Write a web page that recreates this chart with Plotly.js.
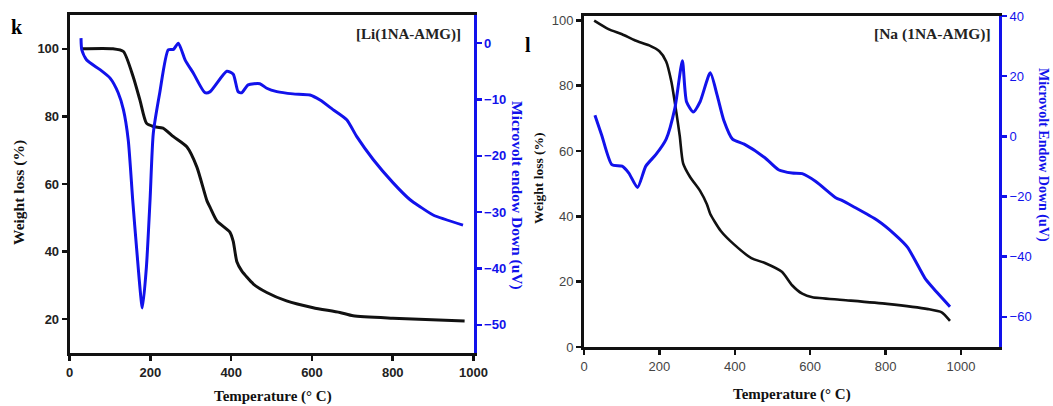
<!DOCTYPE html>
<html><head><meta charset="utf-8">
<script src="https://cdn.plot.ly/plotly-3.0.1.min.js"></script>
<style>html,body{margin:0;padding:0;background:#fff}#plot{width:1053px;height:406px}</style>
</head><body><div id="plot"></div>
<script>
// Panel k: [Li(1NA-AMG)]
const liTgaT = [28,107,133,157,174,190,207,231,257,290,315,340,348,365,397,405,414,426,455,488,537,603,669,702,800,978];
const liTgaW = [100,100,99.2,91.8,84.8,78,77,76.5,74,71,65,55,53,49,45.7,43,37,34.3,30.4,27.9,25.4,23.4,22,21,20.3,19.5];
const liDtaT = [28,30,42,75,100,120,133,145,156,166,180,190,199,207,223,244,257,269,286,306,335,348,389,405,417,426,442,471,488,513,553,595,620,652,686,711,752,801,843,867,900,974];
const liDtaV = [0.9,-1.2,-3,-4.7,-6.2,-8.8,-11.8,-17.2,-27.8,-36.7,-47,-39.7,-27.8,-16,-8.8,-1.2,-1.1,0,-3,-5.3,-8.8,-8.6,-5,-5.5,-8.6,-8.8,-7.4,-7.2,-8,-8.6,-9,-9.2,-10.1,-11.8,-13.6,-16.6,-20.7,-24.8,-27.8,-29,-30.5,-32.3];
// Panel l: [Na (1NA-AMG)]
const naTgaT = [27,65,101,136,173,200,218,232,245,254,263,281,308,326,335,363,398,444,480,525,552,579,606,687,804,913,949,971];
const naTgaW = [99.9,97.3,95.7,93.8,92.3,90.5,87.4,81.1,71.8,64.6,56.2,52.1,47.8,43.7,40.7,35.5,31.4,27.2,25.7,23,18.9,16.3,15.2,14.4,13.2,11.6,10.6,8];
const naDtaT = [29,47,74,101,119,142,164,191,218,241,261,272,290,308,335,353,371,394,425,480,516,552,579,615,669,683,714,777,822,858,904,922,971];
const naDtaV = [7,0.4,-9.4,-9.9,-12.2,-17,-9.9,-6,-0.9,9.3,25.1,11.5,8.1,11.5,21.1,13.8,5.3,-0.9,-2.6,-7.1,-11.1,-12.2,-12.4,-15,-20.5,-21.2,-23.3,-27.8,-32.3,-36.8,-47,-49.8,-56.6];

const xTicks = [0,200,400,600,800,1000];
const liWTicks = [20,40,60,80,100];
const liVTicks = [0,-10,-20,-30,-40,-50];
const naWTicks = [0,20,40,60,80,100];
const naVTicks = [40,20,0,-20,-40,-60];

const BLUE = 'rgb(18,18,235)';
const BLACK = '#111';
const W = 1053, H = 406;
const px = v => v / W, py = v => 1 - v / H;

const traces = [
  {x: liTgaT, y: liTgaW, xaxis:'x', yaxis:'y', mode:'lines', line:{color:BLACK,width:3,shape:'spline',smoothing:0.6}},
  {x: liDtaT, y: liDtaV, xaxis:'x', yaxis:'y2', mode:'lines', line:{color:BLUE,width:3,shape:'spline',smoothing:0.6}},
  {x: naTgaT, y: naTgaW, xaxis:'x2', yaxis:'y3', mode:'lines', line:{color:BLACK,width:2.6,shape:'spline',smoothing:0.6}},
  {x: naDtaT, y: naDtaV, xaxis:'x2', yaxis:'y4', mode:'lines', line:{color:BLUE,width:3,shape:'spline',smoothing:0.6}}
];

const boldTick = {family:'Liberation Sans, Arial', size:13, color:'#222', weight:'bold'};
const normTick = {family:'Liberation Sans, Arial', size:13, color:'#444'};
const common = {showgrid:false, zeroline:false, ticks:'outside', ticklen:5, tickwidth:2.5, showline:true, linewidth:3};

function ann(text, x, y, size, color, angle) {
  return {text:text, x:px(x), y:py(y), xref:'paper', yref:'paper', xanchor:'center', yanchor:'middle',
          showarrow:false, textangle:angle || 0, font:{family:'Liberation Serif', size:size, color:color}};
}

const layout = {
  width: W, height: H, margin:{l:0,r:0,t:0,b:0}, showlegend:false,
  paper_bgcolor:'#fff', plot_bgcolor:'#fff',
  xaxis: Object.assign({}, common, {domain:[px(69.7), px(473.5)], range:[0,1000], anchor:'y', tickvals:xTicks, linecolor:BLACK, tickcolor:BLACK, mirror:true, tickfont:boldTick}),
  yaxis: Object.assign({}, common, {domain:[py(353), py(15)], range:[10,110], anchor:'x', tickvals:liWTicks, linecolor:BLACK, tickcolor:BLACK, tickfont:boldTick}),
  yaxis2: Object.assign({}, common, {overlaying:'y', side:'right', anchor:'x', range:[-55,5], tickvals:liVTicks, linecolor:BLUE, tickcolor:BLUE, tickfont:Object.assign({}, boldTick, {color:BLUE})}),
  xaxis2: Object.assign({}, common, {domain:[px(584), px(999)], range:[0,1101], anchor:'y3', tickvals:xTicks, linecolor:BLACK, tickcolor:BLACK, mirror:true, tickfont:normTick}),
  yaxis3: Object.assign({}, common, {domain:[py(347), py(16)], range:[0,101.3], anchor:'x2', tickvals:naWTicks, linecolor:BLACK, tickcolor:BLACK, tickfont:normTick}),
  yaxis4: Object.assign({}, common, {overlaying:'y3', side:'right', anchor:'x2', range:[-70,40], tickvals:naVTicks, linecolor:BLUE, tickcolor:BLUE, tickfont:Object.assign({}, normTick, {color:BLUE})}),
  annotations: [
    ann('<b>k</b>', 17, 27, 20, '#000'),
    ann('<b>l</b>', 528, 45, 20, '#000'),
    ann('<b>[Li(1NA-AMG)]</b>', 408, 34, 15, '#222'),
    ann('<b>[Na (1NA-AMG)]</b>', 932, 34, 15.5, '#222'),
    ann('<b>Weight loss (%)</b>', 19, 193, 15.5, '#111', -90),
    ann('<b>Microvolt endow Down (uV)</b>', 517, 195, 15.5, BLUE, 90),
    ann('<b>Temperature (° C)</b>', 273, 396, 15, '#111'),
    ann('<b>Weight loss (%)</b>', 538, 178, 13.5, '#111', -90),
    ann('<b>Microvolt Endow Down (uV)</b>', 1043, 155, 14, BLUE, 90),
    ann('<b>Temperature (° C)</b>', 792, 394, 15, '#111')
  ]
};

Plotly.newPlot('plot', traces, layout, {displayModeBar:false, staticPlot:true});
</script>
</body></html>
